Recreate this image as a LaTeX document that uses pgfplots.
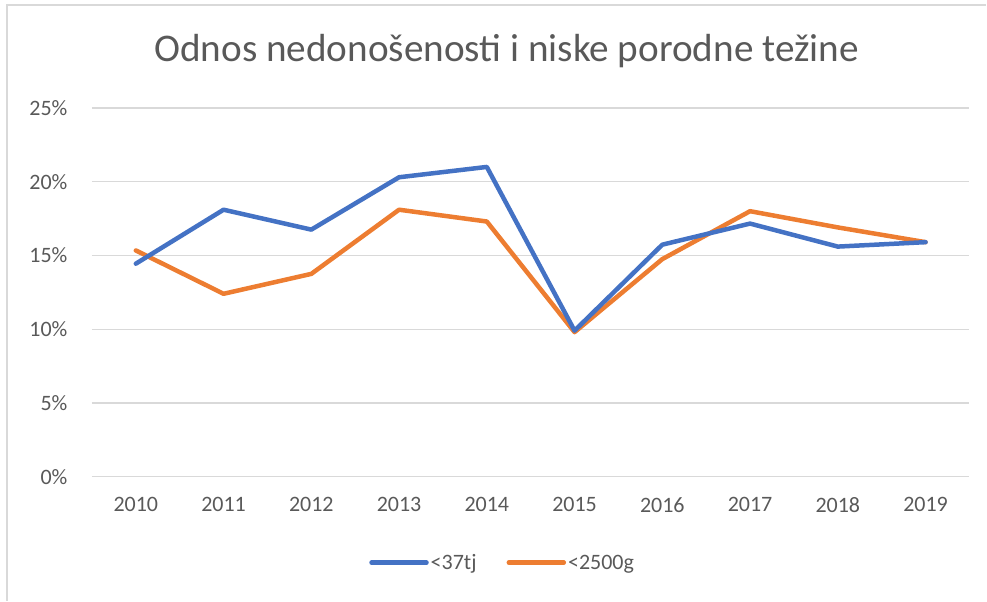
\documentclass[border=0pt]{standalone}
\usepackage{fontspec}
\setmainfont{Carlito}
\usepackage{pgfplots}
\pgfplotsset{compat=1.18}
\definecolor{ser1}{HTML}{4472C4}
\definecolor{ser2}{HTML}{ED7D31}
\definecolor{txtgray}{HTML}{595959}
\definecolor{gridgray}{HTML}{D9D9D9}
\begin{document}
\begin{tikzpicture}
\path (0pt,0pt) rectangle (987pt,601pt);
\draw[gridgray,line width=1.2pt] (7pt,0pt) -- (7pt,596pt) -- (987pt,596pt);
\begin{axis}[
  at={(92pt,124pt)}, anchor=south west,
  width=878pt, height=369pt, scale only axis,
  xmin=-0.5, xmax=9.5, ymin=0, ymax=25,
  xtick={0,...,9},
  xticklabels={2010,2011,2012,2013,2014,2015,2016,2017,2018,2019},
  ytick={0,5,10,15,20,25},
  yticklabel={\pgfmathprintnumber{\tick}\%},
  /pgf/number format/assume math mode=true,
  major tick length=0pt,
  axis line style={draw=none},
  ymajorgrids, grid style={gridgray,line width=1.2pt},
  tick label style={font=\fontsize{22}{26}\selectfont, text=txtgray},
  xticklabel style={yshift=-17pt},
  yticklabel style={xshift=-21pt},
  legend style={at={(0.468,-0.233)}, anchor=center, draw=none, fill=none,
    font=\fontsize{22}{26}\selectfont, text=txtgray, legend columns=2,
    /tikz/every even column/.append style={column sep=28pt}},
  legend image code/.code={\draw[#1,line cap=round] (0pt,0pt) -- (55pt,0pt);},
  legend cell align=left,
]
\addplot[ser2, line width=4.5pt, line join=round, line cap=round, forget plot] coordinates {
(0,15.34) (1,12.4) (2,13.75) (3,18.1) (4,17.3) (5,9.8) (6,14.75) (7,18.0) (8,16.9) (9,15.9)};
\addplot[ser1, line width=4.5pt, line join=round, line cap=round] coordinates {
(0,14.44) (1,18.1) (2,16.75) (3,20.3) (4,21.0) (5,9.9) (6,15.73) (7,17.16) (8,15.6) (9,15.9)};
\addlegendentry{<37tj}
\addlegendimage{ser2, line width=4.5pt}
\addlegendentry{<2500g}
\end{axis}
\node[text=txtgray, font=\fontsize{39.2}{45}\selectfont] at (507pt,550pt) {Odnos nedonošenosti i niske porodne težine};
\end{tikzpicture}
\end{document}
